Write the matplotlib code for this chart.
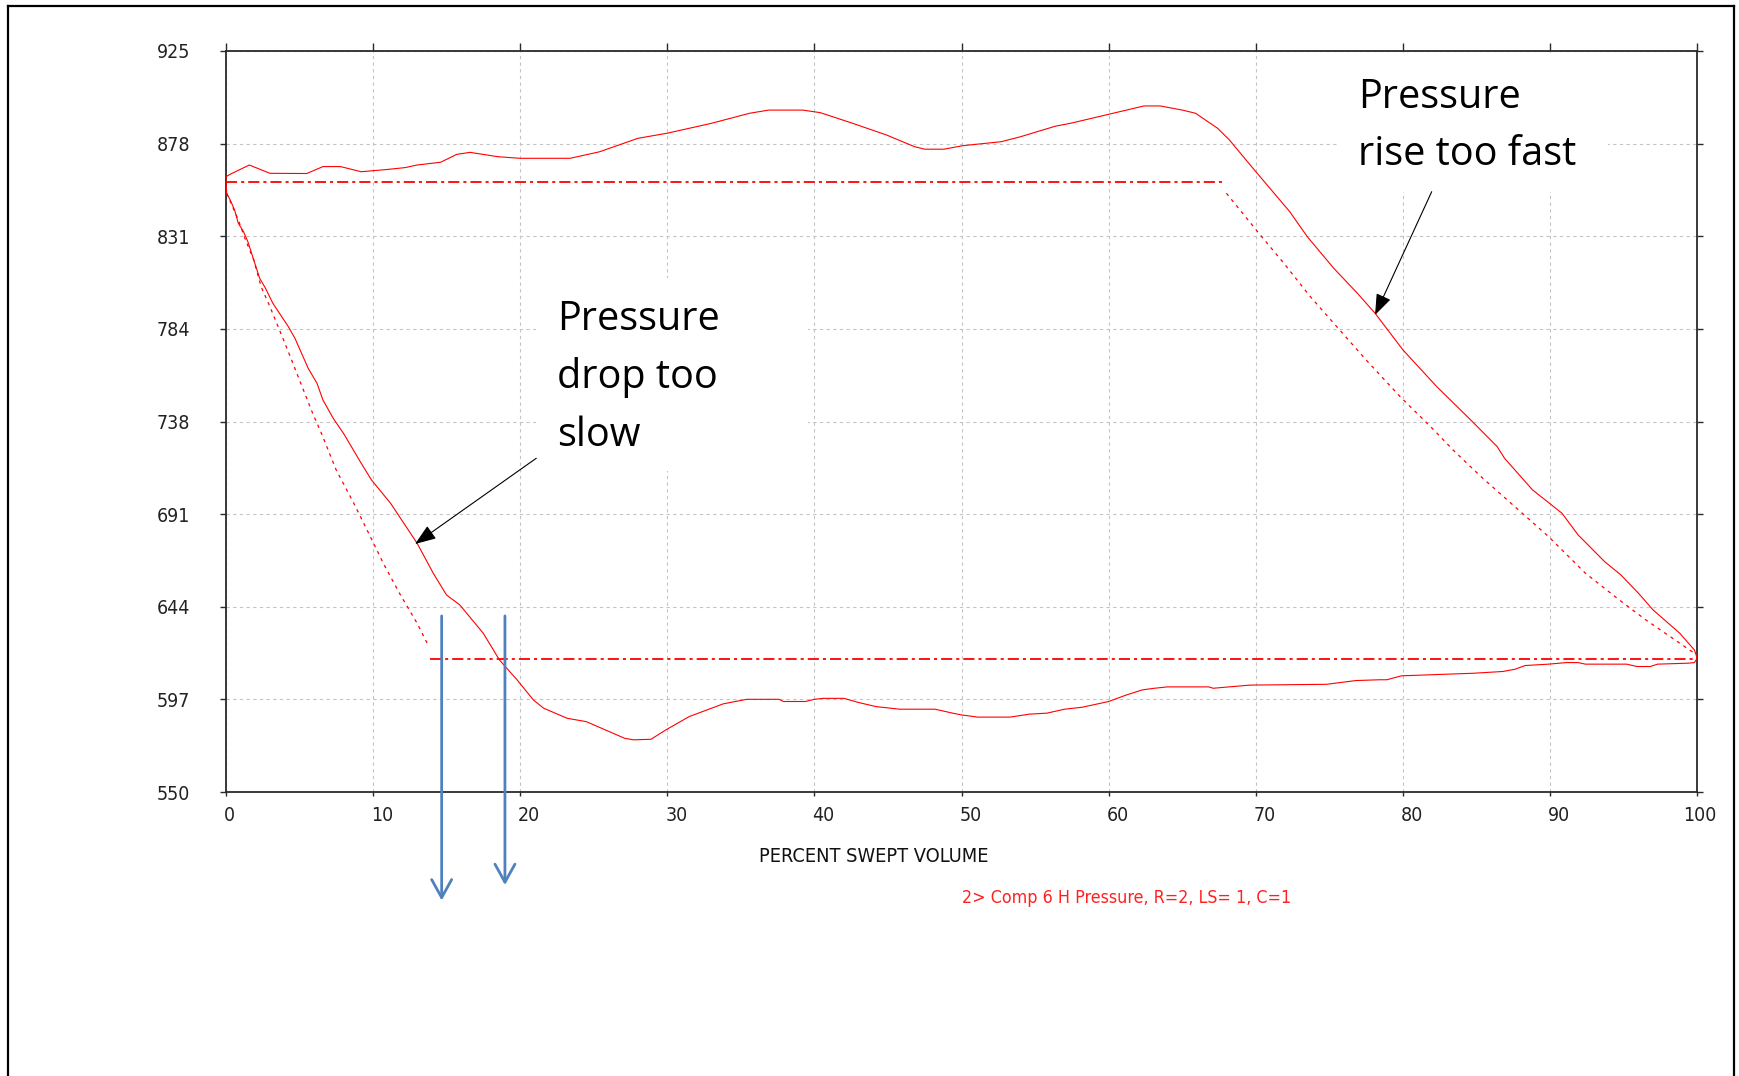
import matplotlib.pyplot as plt
from matplotlib.lines import Line2D
from matplotlib.patches import Rectangle
import matplotlib.transforms as mtransforms

plt.rcParams['font.family'] = ['DejaVu Sans']
plt.rcParams['font.stretch'] = 'condensed'
plt.rcParams['lines.scale_dashes'] = False

W, H = 1739, 1076

# measured card, one closed loop: discharge side left->right, then suction side back
pct = [0.0, 0.4, 1.6, 3.0, 5.5, 6.6, 7.8, 9.2, 10.0, 10.9, 12.2, 13.0, 14.6, 15.7, 16.6,
       18.5, 20.0, 23.4, 25.4, 28.0, 30.0, 33.0, 35.6, 36.9, 39.2, 40.4, 42.6, 44.9, 46.8,
       47.5, 48.8, 50.1, 52.7, 54.0, 56.4, 57.4, 60.0, 62.4, 63.5, 65.0, 65.9, 67.4, 68.2,
       69.9, 72.3, 73.5, 75.3, 76.9, 78.1, 80.0, 82.3, 84.6, 86.4, 86.9, 88.8, 90.8, 91.9,
       93.7, 94.8, 96.0, 97.0, 98.8, 99.8, 100.0, 99.8,
       99.4, 97.3, 96.8, 95.9, 95.2, 92.4, 91.9, 91.1, 89.9, 88.3, 87.6, 86.8, 84.8, 81.7,
       79.9, 78.9, 78.4, 76.8, 74.8, 69.6, 67.9, 67.1, 66.8, 64.0, 63.1, 62.3, 61.2, 60.0,
       58.2, 57.0, 55.8, 54.6, 53.3, 51.1, 50.0, 49.4, 48.2, 45.8, 44.2, 43.0, 42.0, 40.6,
       40.0, 39.4, 37.9, 37.6, 35.4, 33.8, 31.5, 29.9, 28.9, 27.7, 27.1, 24.5, 23.2, 21.6,
       20.9, 19.8, 18.6, 17.5, 15.9, 15.0, 14.1, 13.0, 11.8, 11.2, 9.9, 9.2, 8.0, 7.3, 6.6,
       6.2, 5.6, 4.7, 4.25, 3.2, 2.7, 2.3, 1.9, 1.5, 1.2, 0.85, 0.6, 0.3, 0.06, 0.0]
prs = [861.4, 863.0, 867.3, 863.1, 863.0, 866.5, 866.5, 863.9, 864.4, 865.0, 866.0, 867.3,
       868.7, 872.7, 873.7, 871.5, 870.7, 870.7, 874.0, 880.8, 883.4, 888.4, 893.5, 895.1,
       895.1, 893.8, 888.4, 882.5, 876.6, 875.3, 875.3, 877.1, 879.1, 881.6, 887.0, 888.4,
       893.0, 897.2, 897.2, 895.1, 893.5, 885.9, 880.0, 864.8, 843.7, 831.0, 815.0, 802.4,
       792.3, 773.7, 755.1, 738.3, 724.8, 718.9, 702.9, 691.1, 680.1, 666.6, 659.9, 650.6,
       642.1, 630.4, 621.9, 617.7, 615.5,
       615.2, 614.7, 613.5, 613.5, 614.7, 614.7, 615.5, 615.5, 614.7, 614.0, 612.1, 611.0,
       610.1, 609.3, 608.8, 606.8, 606.8, 606.4, 604.5, 604.1, 603.0, 602.5, 603.2, 603.2,
       602.5, 601.7, 599.1, 595.8, 592.9, 591.9, 589.9, 589.4, 587.9, 587.9, 589.0, 589.9,
       591.9, 591.9, 593.2, 595.3, 597.4, 597.4, 596.9, 595.8, 595.8, 596.9, 596.9, 594.6,
       588.2, 581.4, 576.7, 576.4, 577.2, 585.6, 587.3, 592.4, 596.6, 606.7, 616.8, 630.3,
       644.7, 649.7, 660.7, 675.9, 689.4, 696.1, 707.9, 716.4, 731.5, 739.1, 748.4, 756.8,
       764.4, 779.6, 785.5, 797.3, 804.9, 810.0, 819.2, 828.5, 833.6, 837.8, 844.5, 849.6,
       853.0, 861.4]

# theoretical card
disch_x = [0, 68.0]
disch_y = [858.9, 858.9]
suct_x = [13.9, 100]
suct_y = [617.4, 617.4]
comp_x = [68.0, 69.1, 70.2, 71.9, 73.7, 75.7, 77.5, 79.8, 82.1, 83.4, 85.3, 88.1, 89.9,
          92.4, 94.7, 96.5, 98.5, 99.8]
comp_y = [853.0, 842.9, 832.8, 817.6, 800.7, 783.8, 768.6, 750.1, 733.2, 723.1, 709.6,
          691.1, 679.2, 660.7, 647.2, 637.1, 626.9, 620.2]
exp_x = [0.06, 0.85, 1.3, 1.9, 2.4, 3.0, 3.6, 4.25, 5.0, 5.9, 6.5, 7.5, 8.7, 9.6, 10.7,
         11.8, 13.0, 13.8]
exp_y = [853.0, 839.5, 830.2, 819.2, 805.7, 795.6, 784.7, 772.8, 758.6, 741.7, 731.5,
         713.0, 696.1, 682.6, 665.8, 650.6, 635.4, 623.6]

y_ticks = [550, 596.875, 643.75, 690.625, 737.5, 784.375, 831.25, 878.125, 925]
y_labels = ['550', '597', '644', '691', '738', '784', '831', '878', '925']
x_ticks = [0, 10, 20, 30, 40, 50, 60, 70, 80, 90, 100]

# blue marker arrows (x position, lower end)
marks_x = [14.67, 18.97]
marks_top = 639.1
marks_end = [495.1, 502.9]

fig = plt.figure(figsize=(W / 100, H / 100), dpi=100)
ax = fig.add_axes([225.8 / W, 1 - 792 / H, (1697.3 - 225.8) / W, (792 - 51) / H])

red = '#ff0000'
ax.plot(pct, prs, color=red, lw=0.8, zorder=3)
ax.plot(disch_x, disch_y, color=red, lw=1.3, dashes=[8, 2.9, 2.2, 2.9], zorder=3)
ax.plot(suct_x, suct_y, color=red, lw=1.3, dashes=[8, 2.9, 2.2, 2.9], zorder=3)
ax.plot(comp_x, comp_y, color=red, lw=0.9, dashes=[2.4, 3.2], zorder=3)
ax.plot(exp_x, exp_y, color=red, lw=0.9, dashes=[2.4, 3.2], zorder=3)

ax.set_xlim(0, 100)
ax.set_ylim(550, 925)
ax.set_yticks(y_ticks)
ax.set_yticklabels(y_labels)
ax.set_xticks(x_ticks)
ax.set_xticklabels([])
ax.grid(True, color='#c4c4c4', lw=0.8, linestyle=(0, (2.4, 2.4)), zorder=0)
ax.set_axisbelow(True)

for s in ax.spines.values():
    s.set_color('#2a2a2a')
    s.set_linewidth(1.3)
ax.tick_params(direction='out', top=True, right=True, color='#2a2a2a', width=1.0)
ax.tick_params(axis='y', length=4.5, pad=21, labelsize=14, labelcolor='#222222')
ax.tick_params(axis='x', length=3, labelbottom=False)
for t in ax.xaxis.get_major_ticks():
    t.tick2line.set_markersize(5.5)

for v in x_ticks:
    dx = -14 if v == 100 else -2
    off = mtransforms.ScaledTranslation(dx / 100, -14 / 100, fig.dpi_scale_trans)
    ax.text(v, 0, str(v), transform=ax.get_xaxis_transform() + off,
            ha='left', va='top', fontsize=14, color='#222222')

fig.text(873.5 / W, 1 - 857 / H, 'PERCENT SWEPT VOLUME', ha='center', va='center',
         fontsize=14.3, color='#111111')
fig.text(1126.5 / W, 1 - 898 / H, '2> Comp 6 H Pressure, R=2, LS= 1, C=1', ha='center',
         va='center', fontsize=12.8, color='#ff2020')

# white text boxes covering the grid
for x0, y0, x1, y1 in [(536, 278, 808, 471), (1338, 55, 1608, 192)]:
    ax.add_patch(Rectangle((x0 / W, 1 - y1 / H), (x1 - x0) / W, (y1 - y0) / H,
                           transform=fig.transFigure, facecolor='white',
                           edgecolor='none', zorder=4, clip_on=False))

ann = dict(family='Open Sans', fontsize=28.5, color='black', stretch='normal')
for i, line in enumerate(['Pressure', 'drop too', 'slow']):
    fig.text(557 / W, 1 - (330 + 58 * i) / H, line, va='baseline', ha='left', **ann)
for i, line in enumerate(['Pressure', 'rise too fast']):
    fig.text(1358 / W, 1 - (108 + 57 * i) / H, line, va='baseline', ha='left', **ann)

black_arrow = dict(arrowstyle='-|>,head_length=0.65,head_width=0.24', color='black',
                   lw=0.8, shrinkA=0, shrinkB=0, mutation_scale=20)
ax.annotate('', xy=(12.86, 675.5), xytext=(21.1, 718.9), arrowprops=black_arrow, zorder=6)
ax.annotate('', xy=(78.1, 791.4), xytext=(81.95, 853.8), arrowprops=black_arrow, zorder=6)

for mx, me in zip(marks_x, marks_end):
    ax.annotate('', xy=(mx, me), xytext=(mx, marks_top), annotation_clip=False,
                arrowprops=dict(arrowstyle='->,head_length=0.65,head_width=0.36',
                                color='#4f81bd', lw=2.0, shrinkA=0, shrinkB=0,
                                mutation_scale=20, clip_on=False), zorder=6)

# outer frame of the slide image
for xs, ys in [([8, 8], [6, H + 5]), ([8, 1734], [6, 6]), ([1734, 1734], [6, H + 5])]:
    fig.add_artist(Line2D([x / W for x in xs], [1 - y / H for y in ys], color='black',
                          lw=1.6, transform=fig.transFigure))

fig.savefig('out.png', dpi=100)
